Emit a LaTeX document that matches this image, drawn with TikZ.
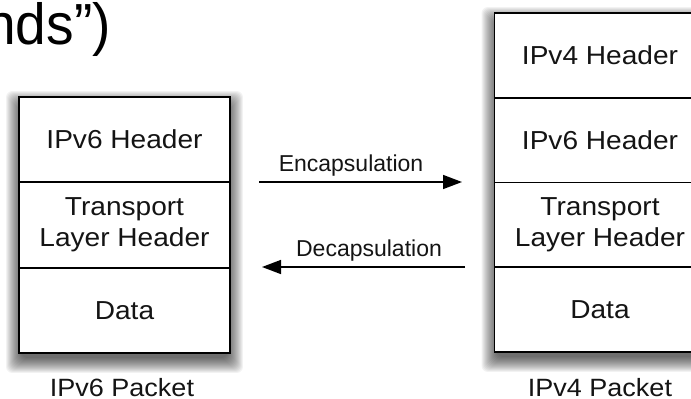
\documentclass[tikz,border=0pt]{standalone}
\usepackage{fontspec}
\setmainfont{Liberation Sans}
\newfontfamily\hdrfont[FakeStretch=1.08]{Liberation Sans}
\newfontfamily\titlefont[FakeStretch=0.95]{Liberation Sans}
\usetikzlibrary{arrows.meta,backgrounds}
\tikzset{
  cell/.style={draw=black, line width=1.8pt, fill=white, minimum width=211pt, inner sep=0pt,
    text=black!92, align=center, font=\hdrfont\fontsize{26}{30.7}\selectfont},
  lcell/.style={cell, minimum height=85.33pt},
  rcell/.style={cell, minimum height=84.75pt},
  caption/.style={text=black!92, font=\hdrfont\fontsize{25}{30}\selectfont, inner sep=0pt},
  arrlabel/.style={text=black!92, font=\fontsize{23}{27}\selectfont, inner sep=0pt},
  conn/.style={line width=1.5pt, -{Triangle[length=19pt,width=14pt]}},
}
\begin{document}
\begin{tikzpicture}[x=1pt,y=-1pt]
\useasboundingbox (0,0) rectangle (691,399);
\clip (0,0) rectangle (691,399);
% big partial title text
\node[anchor=base east, inner sep=0pt, text=black, font=\titlefont\fontsize{58}{62}\selectfont] (title) at (111,44) {nds”)};
% left packet
\node[lcell] (l1) at (124.5,139.67) {IPv6 Header};
\node[lcell] (l2) at (124.5,225) {Transport\\Layer Header};
\node[lcell] (l3) at (124.5,310.33) {Data};
\node[caption, anchor=base] (lcap) at (122,396) {IPv6 Packet};
% right packet
\node[rcell] (r1) at (600,55.4) {IPv4 Header};
\node[rcell] (r2) at (600,140.1) {IPv6 Header};
\node[rcell] (r3) at (600,224.9) {Transport\\Layer Header};
\node[rcell] (r4) at (600,309.6) {Data};
\node[caption, anchor=base] (rcap) at (600,396) {IPv4 Packet};
% shadows
\begin{scope}[on background layer]
\foreach \i in {-3,...,12}{
  \fill[black, opacity=0.05, rounded corners=6pt]
    ([xshift={-\i pt}, yshift={-7pt+\i pt}]l1.north west) rectangle ([xshift={\i pt}, yshift={-7pt-\i pt}]l3.south east);
  \fill[black, opacity=0.05, rounded corners=6pt]
    ([xshift={-\i pt}, yshift={-7pt+\i pt}]r1.north west) rectangle ([xshift={\i pt}, yshift={-7pt-\i pt}]r4.south east);
}
\end{scope}
% arrows
\coordinate (e1) at (259,182);
\coordinate (e2) at (462,182);
\coordinate (d1) at (465,267);
\coordinate (d2) at (262,267);
\draw[conn] (e1) -- (e2);
\draw[conn] (d1) -- (d2);
\node[arrlabel, anchor=base] (enc) at (351,171) {Encapsulation};
\node[arrlabel, anchor=base] (dec) at (369,256) {Decapsulation};
\end{tikzpicture}
\end{document}
